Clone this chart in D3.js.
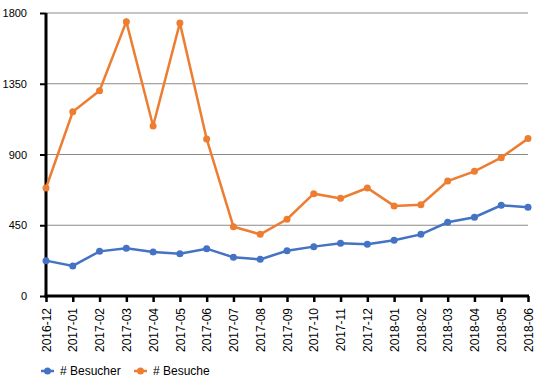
<!DOCTYPE html>
<html><head><meta charset="utf-8">
<script src="https://cdn.jsdelivr.net/npm/d3@7"></script>
<style>body{margin:0;background:#fff}svg{display:block}text{font-family:"Liberation Sans",Arial,sans-serif}</style>
</head><body><svg id="c" width="534" height="379"></svg>
<script>
const months = ["2016-12","2017-01","2017-02","2017-03","2017-04","2017-05","2017-06","2017-07","2017-08","2017-09","2017-10","2017-11","2017-12","2018-01","2018-02","2018-03","2018-04","2018-05","2018-06"];
const besucher = [225,191,284,303,280,269,301,246,233,288,314,335,329,354,392,469,501,577,564];
const besuche = [687,1172,1306,1745,1081,1737,999,441,392,488,651,621,687,573,581,731,793,880,1001];
const yTicks = [0,450,900,1350,1800];
const seriesNames = ["# Besucher","# Besuche"];
const colors = ["#4472C4","#ED7D31"];

const svg = d3.select("#c");
const m = {l:46, r:6, t:13, b:83};
const W = 534, H = 379;
const x = d3.scalePoint().domain(months).range([m.l, W - m.r]);
const y = d3.scaleLinear().domain([0,1800]).range([H - m.b, m.t]);

// grid
svg.append("g").selectAll("line").data(yTicks.filter(d=>d>0)).join("line")
  .attr("x1", m.l).attr("x2", W - m.r)
  .attr("y1", d=>y(d)).attr("y2", d=>y(d))
  .attr("stroke","#8a8a8a").attr("stroke-width",1);

// y axis
const ya = svg.append("g").attr("transform",`translate(${m.l},0)`)
  .call(d3.axisLeft(y).tickValues(yTicks).tickSize(6).tickPadding(13).tickFormat(d3.format("d")));
ya.select(".domain").remove();
ya.selectAll("line").attr("stroke","#000").attr("stroke-width",2);
ya.selectAll("text").attr("font-size",11).attr("fill","#000");

// x axis
const xa = svg.append("g").attr("transform",`translate(0,${y(0)})`)
  .call(d3.axisBottom(x).tickSize(6).tickPadding(4));
xa.select(".domain").remove();
xa.selectAll("line").attr("stroke","#000").attr("stroke-width",2.5);
xa.selectAll("text").attr("font-size",12).attr("fill","#000")
  .attr("transform","rotate(-90)").attr("text-anchor","end")
  .attr("dy","0.35em").attr("x",-12).attr("y",0);

// axis lines
svg.append("line").attr("x1",m.l).attr("x2",m.l).attr("y1",y(1800)).attr("y2",y(0)+1.5)
  .attr("stroke","#000").attr("stroke-width",3);
svg.append("line").attr("x1",m.l-1.5).attr("x2",W-m.r+1).attr("y1",y(0)).attr("y2",y(0))
  .attr("stroke","#000").attr("stroke-width",3);

const line = d3.line().x((d,i)=>x(months[i])).y(d=>y(d));
[besucher, besuche].forEach((s,k)=>{
  svg.append("path").datum(s).attr("d",line).attr("fill","none")
    .attr("stroke",colors[k]).attr("stroke-width",2.5);
  svg.append("g").selectAll("circle").data(s).join("circle")
    .attr("cx",(d,i)=>x(months[i])).attr("cy",d=>y(d)).attr("r",3.5)
    .attr("fill",colors[k]);
});

// legend
const lg = svg.append("g").attr("transform","translate(0,371)");
const lx = [41,134];
seriesNames.forEach((n,k)=>{
  lg.append("line").attr("x1",lx[k]).attr("x2",lx[k]+13).attr("y1",0).attr("y2",0)
    .attr("stroke",colors[k]).attr("stroke-width",2.5);
  lg.append("circle").attr("cx",lx[k]+6.5).attr("cy",0).attr("r",3.5).attr("fill",colors[k]);
  lg.append("text").attr("x",lx[k]+19).attr("y",0).attr("dy","0.35em")
    .attr("font-size",12).attr("fill","#000").text(n);
});
</script></body></html>
